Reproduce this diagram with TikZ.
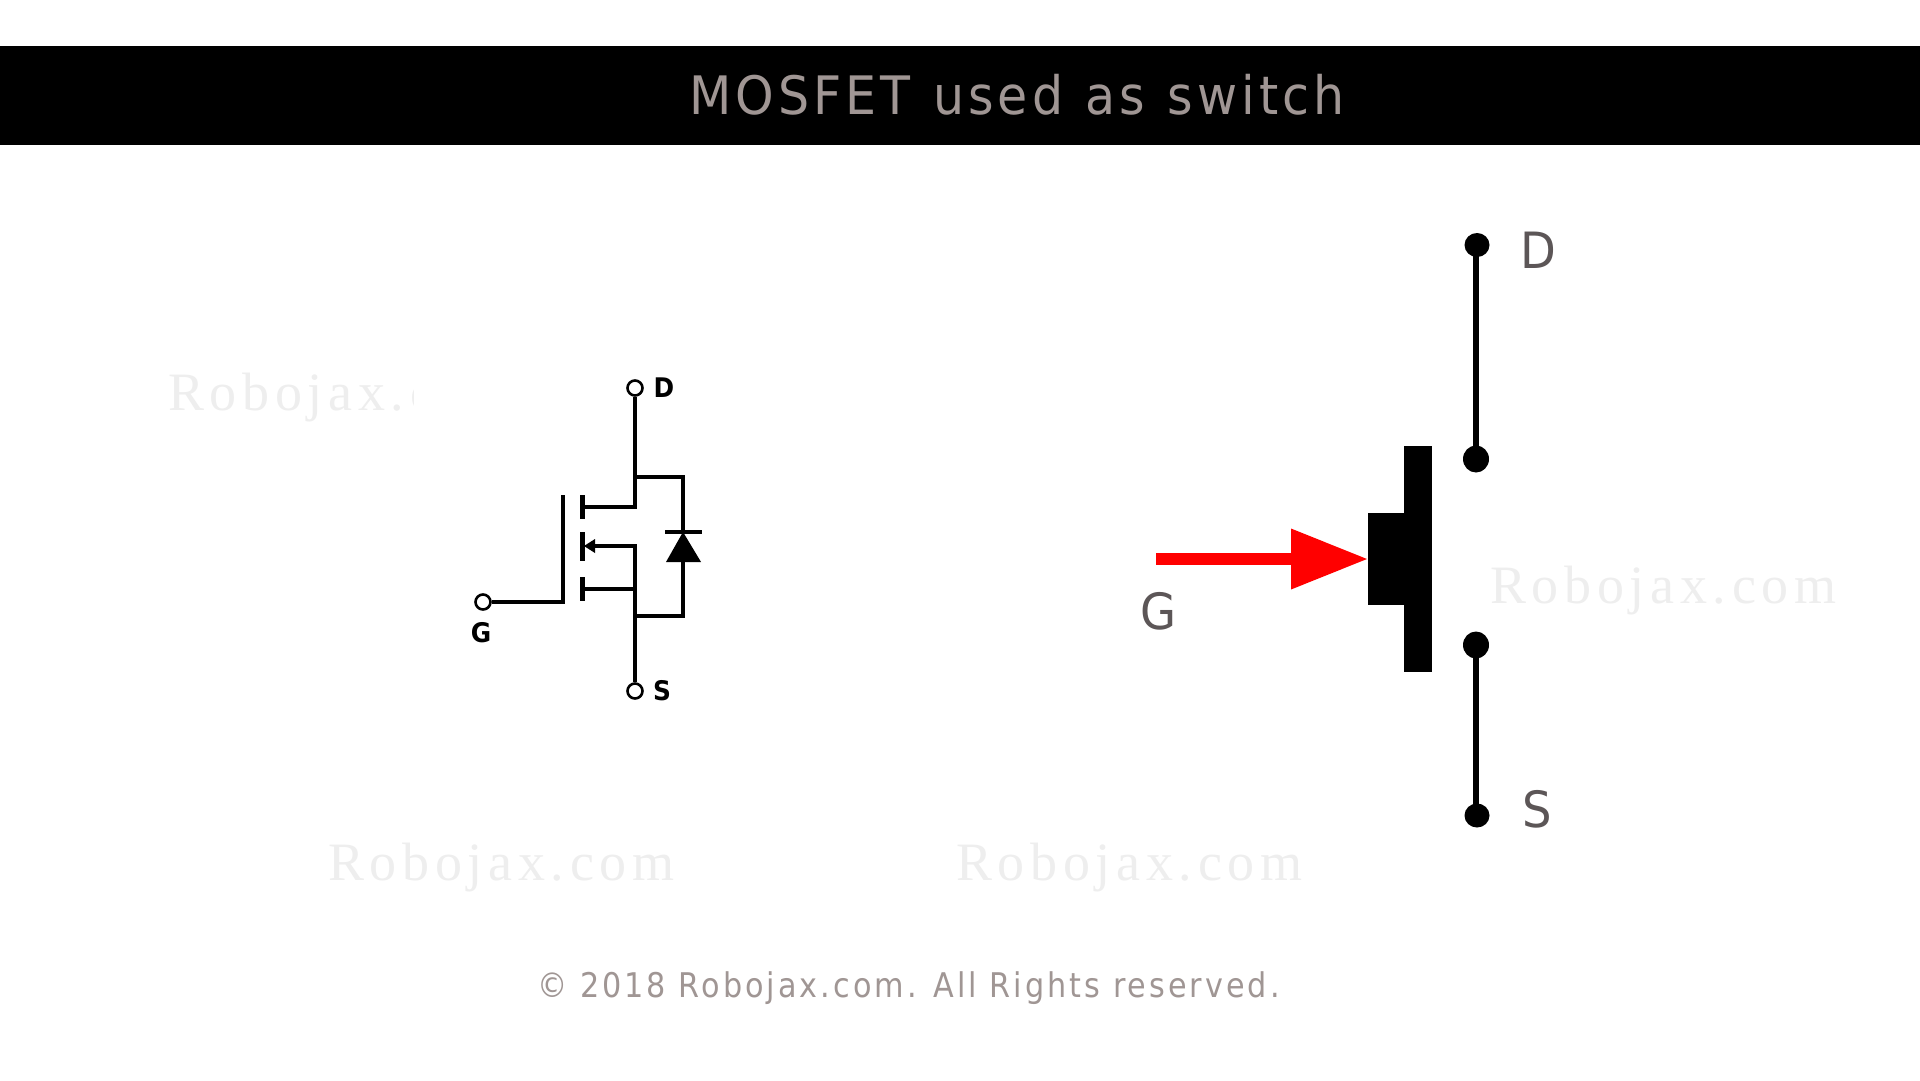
\documentclass[tikz,border=0pt]{standalone}
\usepackage{fontspec}
\usetikzlibrary{shapes.geometric}
\setmainfont{DejaVu Sans}
\newfontfamily\titlefont[LetterSpace=8.2,WordSpace=1.15]{DejaVu Sans}
\newfontfamily\copyfont[LetterSpace=10]{DejaVu Sans}
\newfontfamily\wmfont[LetterSpace=10.5]{Liberation Serif}
\definecolor{titlegray}{HTML}{A09694}
\definecolor{labelgray}{HTML}{5C5657}
\definecolor{wmgray}{HTML}{EEEEEE}
\definecolor{arrowred}{HTML}{FF0000}
\tikzset{
  wire/.style={line width=3.2pt,black,line cap=butt,line join=miter},
  thinterm/.style={circle,draw=black,line width=2.6pt,fill=white,minimum size=15pt,inner sep=0pt},
  smalllabel/.style={font=\fontsize{27}{27}\selectfont\bfseries,text=black,inner sep=0pt,xscale=0.92},
  biglabel/.style={font=\fontsize{50}{50}\selectfont,text=labelgray,inner sep=0pt,xscale=0.93},
  watermark/.style={font=\fontsize{54}{54}\selectfont\wmfont,text=wmgray,inner sep=0pt,anchor=base west},
  enddot/.style={ellipse,fill=black,minimum width=25pt,minimum height=24pt,inner sep=0pt},
  innerdot/.style={ellipse,fill=black,minimum width=26pt,minimum height=27pt,inner sep=0pt},
  bigwire/.style={line width=5.5pt,black,xshift=-0.7pt},
}
\begin{document}
\begin{tikzpicture}[x=1pt,y=-1pt]
\useasboundingbox (0,0) rectangle (1920,1080);
\fill[white] (0,0) rectangle (1920,1080);
% watermarks
\begin{scope}
\clip (160,340) rectangle (413,440);
\node[watermark] (wma) at (168,410) {Robojax.com};
\end{scope}
\node[watermark] (wmb) at (328,880) {Robojax.com};
\node[watermark] (wmc) at (956,880) {Robojax.com};
\node[watermark] (wmd) at (1490,603) {Robojax.com};
% title
\fill[black] (0,46) rectangle (1920,144.5);
\node[font=\fontsize{53}{53}\selectfont\titlefont,text=titlegray,inner sep=0pt,xscale=0.925] (title) at (1017,95) {MOSFET used as switch};
% copyright
\node[font=\fontsize{34}{34}\selectfont\copyfont,text=titlegray,inner sep=0pt,xscale=0.89] (copy) at (908.5,988) {© 2018 Robojax.com. All Rights reserved.};
% small symbol
\node[thinterm] (td) at (635,388) {};
\node[thinterm] (ts) at (635,691) {};
\node[thinterm] (tg) at (483,602) {};
\coordinate (dj) at (635,477);
\coordinate (ds) at (635,507);
\coordinate (sm) at (635,546);
\coordinate (sb) at (635,589);
\coordinate (sj) at (635,616);
\coordinate (gb) at (563,602);
\draw[wire] (td) -- (ds) -- (582,507);
\draw[wire] (ts) -- (sm) -- (590,546);
\draw[wire] (sb) -- (582,589);
\draw[wire] (tg) -- (gb) -- (563,495);
\draw[wire] (dj) -- (683,477) -- (683,532);
\draw[wire] (sj) -- (683,616) -- (683,562);
\draw[wire] (665,532) -- (702,532);
\fill[black] (683,532) -- (701,562) -- (666,562) -- cycle;
\fill[black] (584,546) -- (595,539) -- (595,553) -- cycle;
\draw[line width=5pt] (582,495) -- (582,519);
\draw[line width=5pt] (582,532) -- (582,561);
\draw[line width=5pt] (582,577) -- (582,601);
\node[smalllabel] (ld) at (664,388) {D};
\node[smalllabel] (ls) at (662,691) {S};
\node[smalllabel] (lg) at (481,633) {G};
% big symbol
\fill[black] (1404,446) rectangle (1431.5,672);
\fill[black] (1368,513) rectangle (1405,605);
\fill[arrowred] (1156,553) rectangle (1293,564.5);
\fill[arrowred] (1291,528.5) -- (1367,559) -- (1291,589.5) -- cycle;
\node[enddot] (d1) at (1477,245) {};
\node[innerdot] (d2) at (1476,459) {};
\node[innerdot] (s1) at (1476,645) {};
\node[enddot] (s2) at (1477,815.5) {};
\draw[bigwire] (d1.center -| d2.center) -- (d2.center);
\draw[bigwire] (s1.center) -- (s2.center -| s1.center);
\node[biglabel] (bd) at (1538,250) {D};
\node[biglabel] (bg) at (1159,611) {G};
\node[biglabel] (bs) at (1537,809.5) {S};
\end{tikzpicture}
\end{document}
